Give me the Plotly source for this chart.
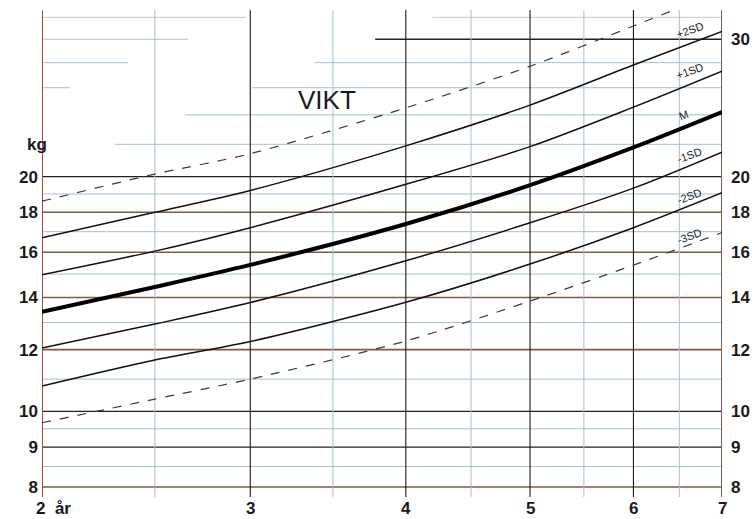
import numpy as np
import plotly.graph_objects as go

# ---- data ----
age = [2, 2.5, 3, 4, 5, 6, 7]
sd_p3 = [18.6, 20.15, 21.4, 24.5, 27.7, 31.2, 34.6]
sd_p2 = [16.7, 18.0, 19.2, 21.9, 24.7, 27.8, 30.7]
sd_p1 = [14.97, 16.05, 17.2, 19.55, 21.85, 24.55, 27.3]
sd_m = [13.42, 14.44, 15.41, 17.39, 19.5, 21.8, 24.2]
sd_m1 = [12.06, 12.94, 13.79, 15.6, 17.45, 19.33, 21.5]
sd_m2 = [10.78, 11.64, 12.29, 13.8, 15.45, 17.2, 19.07]
sd_m3 = [9.67, 10.37, 11.0, 12.31, 13.85, 15.4, 16.95]

x_ticks = [2, 3, 4, 5, 6, 7]
x_minor = [2.5, 3.5, 4.5, 5.5, 6.5]
y_ticks_left = [8, 9, 10, 12, 14, 16, 18, 20]
y_ticks_right = [8, 9, 10, 12, 14, 16, 18, 20, 30]
labels = ["+2SD", "+1SD", "M", "-1SD", "-2SD", "-3SD"]

OFF = 0.5  # age-axis offset of the chart's log age scale


def ax(a):
    return np.asarray(a, dtype=float) + OFF


FONT = "Liberation Sans, Arial, sans-serif"
fig = go.Figure()

curves = [
    (sd_p3, dict(color="#3a3a3a", width=1.2, dash="dash")),
    (sd_p2, dict(color="#111111", width=1.5)),
    (sd_p1, dict(color="#111111", width=1.5)),
    (sd_m, dict(color="#000000", width=4)),
    (sd_m1, dict(color="#111111", width=1.5)),
    (sd_m2, dict(color="#111111", width=1.5)),
    (sd_m3, dict(color="#3a3a3a", width=1.2, dash="dash")),
]
for vals, ln in curves:
    fig.add_trace(go.Scatter(x=ax(age), y=vals, mode="lines",
                             line=dict(shape="spline", smoothing=0.8, **ln),
                             hoverinfo="skip", showlegend=False))

# invisible trace for the right axis
fig.add_trace(go.Scatter(x=ax([2]), y=[10], yaxis="y2", mode="markers",
                         marker=dict(opacity=0), hoverinfo="skip", showlegend=False))

shapes = []
BROWN = "#8a5446"
DARK = "#2a1e1e"
BLUE = "#a3c0d3"
GRAY = "#b8bcc4"


def hline(v, color, width, segs=((0, 1),)):
    for a, b in segs:
        shapes.append(dict(type="line", xref="x domain", yref="y", x0=a, x1=b,
                           y0=v, y1=v, line=dict(color=color, width=width), layer="below"))


for v in [8.5, 9.5, 11, 13, 15, 17, 19]:
    hline(v, BLUE, 1)
hline(22, BLUE, 1, [(0.107, 1)])
hline(24, BLUE, 1, [(0.21, 1)])
hline(26, BLUE, 1, [(0, 0.041), (0.309, 1)])
hline(28, BLUE, 1, [(0, 0.126), (0.401, 1)])
hline(30, GRAY, 1, [(0, 0.215)])
hline(32, "#cfc6c6", 1, [(0, 0.3), (0.574, 1)])
for v in [8, 12, 14, 16, 18]:
    hline(v, BROWN, 1.6)
for v in [9, 10, 20]:
    hline(v, DARK, 1.3)
hline(30, DARK, 1.3, [(0.49, 1)])

for a in x_minor:
    shapes.append(dict(type="line", xref="x", yref="y domain", x0=a + OFF, x1=a + OFF,
                       y0=0, y1=1, line=dict(color=BLUE, width=1), layer="below"))
for a in x_ticks:
    if a == 2:
        col, w = "#a0503c", 2
    elif a == 7:
        col, w = "#8a5a4a", 2
    else:
        col, w = "#1a1a1a", 1.1
    shapes.append(dict(type="line", xref="x", yref="y domain", x0=a + OFF, x1=a + OFF,
                       y0=0, y1=1, line=dict(color=col, width=w), layer="below"))

annotations = []
for a in x_ticks:
    txt = "2\u00a0\u00a0år" if a == 2 else str(a)
    annotations.append(dict(x=np.log10(a + OFF), y=0, xref="x", yref="paper",
                            text=txt, showarrow=False, yanchor="top",
                            xanchor="left" if a == 2 else "center",
                            xshift=-8 if a == 2 else 0, yshift=0,
                            font=dict(family=FONT, size=17, color="#1a1a1a", weight="bold")))

annotations.append(dict(x=-0.025, y=np.log10(22.0), xref="paper", yref="y", text="kg",
                        showarrow=False, font=dict(family=FONT, size=17, color="#1a1a1a",
                                                   weight="bold")))
annotations.append(dict(x=np.log10(3.46 + OFF), y=np.log10(25.1), xref="x", yref="y",
                        text="VIKT", showarrow=False,
                        font=dict(family=FONT, size=26, color="#1a1a1a")))

label_age = 6.62
label_shift = [14, 13, 10, 10, 9, 8]
for name, vals, sh in zip(labels, [sd_p2, sd_p1, sd_m, sd_m1, sd_m2, sd_m3], label_shift):
    yv = np.interp(np.log10(label_age + OFF), np.log10(ax(age)), np.log10(vals))
    annotations.append(dict(x=np.log10(label_age + OFF), y=yv, xref="x", yref="y",
                            text=name, showarrow=False, textangle=-20, yshift=sh,
                            xshift=-6 if name == "M" else 0,
                            font=dict(family=FONT, size=11, color="#222222")))

yr = [0.89027, 0.89027 + 487 / 780]
fig.update_layout(
    width=754, height=519,
    margin=dict(l=42, r=32, t=10, b=22, autoexpand=False),
    paper_bgcolor="white", plot_bgcolor="white",
    showlegend=False,
    shapes=shapes, annotations=annotations,
    xaxis=dict(type="log", range=[np.log10(2 + OFF), np.log10(7 + OFF)], automargin=False,
               showgrid=False, zeroline=False, showticklabels=False, ticks=""),
    yaxis=dict(type="log", range=yr, tickvals=y_ticks_left, automargin=False,
               ticktext=[str(v) for v in y_ticks_left],
               showgrid=False, zeroline=False, ticks="", ticklabelstandoff=3,
               tickfont=dict(family=FONT, size=17, color="#1a1a1a", weight="bold")),
    yaxis2=dict(type="log", range=yr, overlaying="y", side="right", automargin=False,
                tickvals=y_ticks_right, ticktext=[str(v) for v in y_ticks_right],
                showgrid=False, zeroline=False, ticks="", ticklabelstandoff=8,
                tickfont=dict(family=FONT, size=17, color="#1a1a1a", weight="bold")),
)

fig.write_html("out.html", config={"displayModeBar": False},
               post_script="document.body.style.margin='0';"
                           "document.body.style.overflow='hidden';")
